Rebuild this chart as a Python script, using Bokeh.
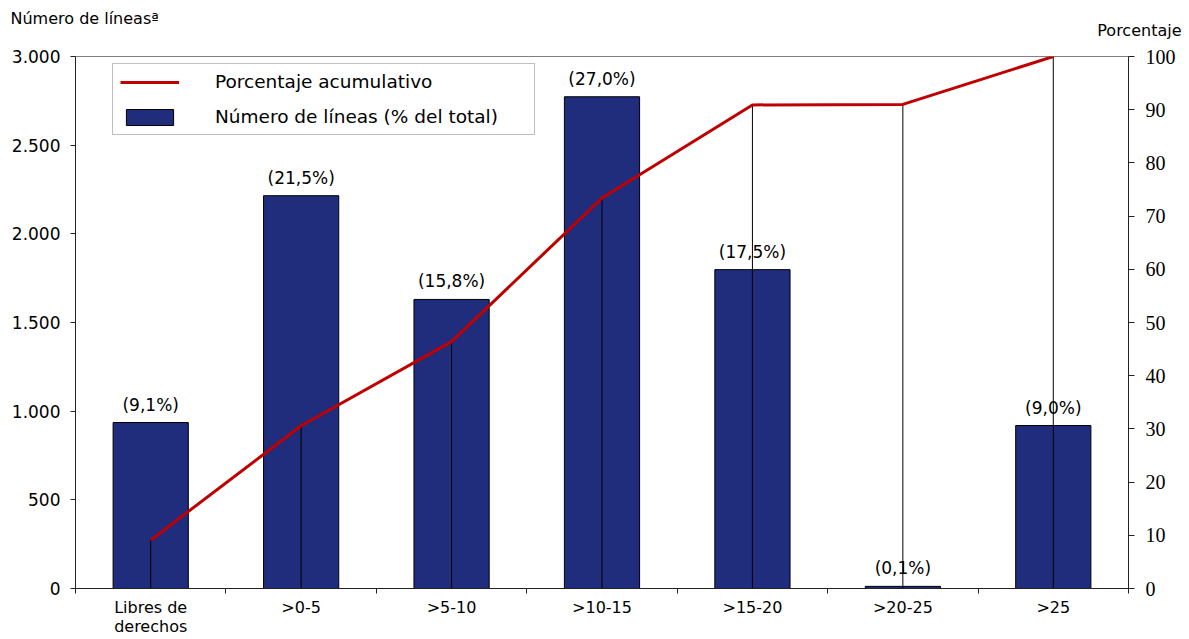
from bokeh.plotting import figure
from bokeh.models import Range1d, LinearAxis, FixedTicker, Legend, LegendItem, Title
from bokeh.embed import file_html
from bokeh.resources import INLINE
from bokeh.core.properties import value

# ---- data ----
categories = ["Libres de\nderechos", ">0-5", ">5-10", ">10-15", ">15-20", ">20-25", ">25"]
lines_count = [936, 2215, 1630, 2773, 1798, 12, 919]
share_labels = ["(9,1%)", "(21,5%)", "(15,8%)", "(27,0%)", "(17,5%)", "(0,1%)", "(9,0%)"]
cumulative_pct = [9.1, 30.6, 46.4, 73.4, 90.9, 91.0, 100.0]
left_ticks = [0, 500, 1000, 1500, 2000, 2500, 3000]
left_tick_labels = ["0", "500", "1.000", "1.500", "2.000", "2.500", "3.000"]
right_ticks = [0, 10, 20, 30, 40, 50, 60, 70, 80, 90, 100]

n = len(categories)
xs = [i + 0.5 for i in range(n)]
boundaries = list(range(n + 1))

SANS = "DejaVu Sans"
SERIF = "Liberation Serif"
NAVY = "#202C7C"
RED = "#C00000"
AXIS = "#222222"

p = figure(width=1189, height=639, x_range=Range1d(0, n), y_range=Range1d(0, 3000),
           x_axis_type=None, y_axis_type=None, output_backend="svg", toolbar_location=None,
           title=None,
           min_border_left=75, min_border_right=61, min_border_top=56, min_border_bottom=51,
           background_fill_color="white", border_fill_color="white")
p.extra_y_ranges = {"pct": Range1d(0, 100)}
p.outline_line_color = "#808080"
p.outline_line_width = 1

# axes
xaxis = LinearAxis(ticker=FixedTicker(ticks=xs, minor_ticks=boundaries),
                   major_label_overrides={x: c for x, c in zip(xs, categories)},
                   major_tick_out=0, major_tick_in=0, minor_tick_out=5, minor_tick_in=0,
                   axis_line_color=AXIS, minor_tick_line_color=AXIS,
                   major_label_text_font=SANS, major_label_text_font_size="16px",
                   major_label_text_line_height=1.05,
                   major_label_text_color="black", major_label_standoff=4)
p.add_layout(xaxis, "below")

yaxis = LinearAxis(ticker=FixedTicker(ticks=left_ticks),
                   major_label_overrides=dict(zip(left_ticks, left_tick_labels)),
                   major_tick_out=5, major_tick_in=0, axis_line_color=AXIS,
                   major_tick_line_color=AXIS,
                   major_label_text_font=SANS, major_label_text_font_size="17px",
                   major_label_text_color="black", major_label_standoff=10)
p.add_layout(yaxis, "left")

raxis = LinearAxis(y_range_name="pct", ticker=FixedTicker(ticks=right_ticks),
                   major_tick_out=6, major_tick_in=0, axis_line_color=AXIS,
                   major_tick_line_color=AXIS,
                   major_label_text_font=SERIF, major_label_text_font_size="20px",
                   major_label_text_color="black", major_label_standoff=11)
p.add_layout(raxis, "right")

# glyphs
bars = p.vbar(x=xs, top=lines_count, width=0.5, fill_color=NAVY, line_color="black", line_width=1)
p.segment(x0=xs, y0=[0] * n, x1=xs, y1=cumulative_pct, y_range_name="pct",
          line_color="black", line_width=1)
cum_line = p.line(xs, cumulative_pct, y_range_name="pct", line_color=RED, line_width=3)
p.text(x=xs, y=lines_count, text=share_labels, text_align="center", text_baseline="bottom",
       y_offset=-8, text_font=value(SANS), text_font_size="17px", text_color="black")

# legend
legend = Legend(items=[LegendItem(label="Porcentaje acumulativo", renderers=[cum_line]),
                       LegendItem(label="Número de líneas (% del total)", renderers=[bars])],
                location=(37, 453), border_line_color="#808080", border_line_width=1,
                background_fill_color="white", background_fill_alpha=1,
                label_text_font=SANS, label_text_font_size="18.5px", label_text_color="black",
                glyph_width=59, glyph_height=20, label_standoff=36, padding=7, spacing=14,
                label_height=20, label_width=312)
p.add_layout(legend)

# axis titles (above the frame)
t_pct = Title(text="Porcentaje", align="right", offset=-53, standoff=34,
              text_font=SANS, text_font_size="16px", text_font_style="normal", text_color="black")
t_num = Title(text="Número de líneasª", align="left", offset=-65, standoff=-52,
              text_font=SANS, text_font_size="16px", text_font_style="normal", text_color="black")
p.add_layout(t_pct, "above")
p.add_layout(t_num, "above")

open("out.html", "w").write(file_html(p, INLINE))
